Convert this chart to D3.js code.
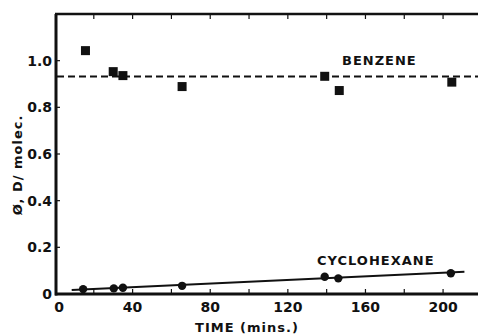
<!DOCTYPE html>
<html>
<head>
<meta charset="utf-8">
<script src="https://cdn.jsdelivr.net/npm/d3@7"></script>
<style>
  body { margin: 0; background: #fff; }
  text { font-family: "DejaVu Sans", "Liberation Sans", sans-serif; font-weight: bold; fill: #111; }
</style>
</head>
<body>
<div id="chart"></div>
<script>
// values
const benzeneTime = [15.7, 30, 35, 65.5, 139, 146.5, 204.5];
const benzeneYield = [1.043, 0.953, 0.936, 0.889, 0.933, 0.872, 0.908];
const benzeneLevel = 0.932;

const cycloTime = [14.5, 30.3, 35, 65.5, 139, 146, 204];
const cycloYield = [0.021, 0.024, 0.027, 0.035, 0.074, 0.067, 0.089];
const cycloFitTime = [8.6, 211];
const cycloFitYield = [0.017, 0.095];

const xTicks = [0, 40, 80, 120, 160, 200];
const xMinorTicks = [20, 60, 100, 140, 180];
const yTicks = [0, 0.2, 0.4, 0.6, 0.8, 1.0];
const yTickLabels = ["0", "0.2", "0.4", "0.6", "0.8", "1.0"];

const W = 478, H = 334;
const svg = d3.select("#chart").append("svg")
  .attr("width", W).attr("height", H);

const x = d3.scaleLinear().domain([0, 218]).range([55, 478]);
const y = d3.scaleLinear().domain([0, 1.2]).range([294, 14]);

const ink = "#111";

// frame: left, bottom, top (no right edge)
svg.append("line").attr("x1", x(0) + 1).attr("x2", x(0) + 1).attr("y1", y(1.2)).attr("y2", y(0) + 1.5)
  .attr("stroke", ink).attr("stroke-width", 3);
svg.append("line").attr("x1", x(0)).attr("x2", W).attr("y1", y(0)).attr("y2", y(0))
  .attr("stroke", ink).attr("stroke-width", 3);
svg.append("line").attr("x1", x(0)).attr("x2", W).attr("y1", y(1.2)).attr("y2", y(1.2))
  .attr("stroke", ink).attr("stroke-width", 2.5);

// inward ticks on bottom and top
const allX = xTicks.concat(xMinorTicks).filter(d => d > 0);
svg.append("g").selectAll("line").data(allX).join("line")
  .attr("x1", d => x(d)).attr("x2", d => x(d))
  .attr("y1", y(0)).attr("y2", y(0) - 5)
  .attr("stroke", ink).attr("stroke-width", 1.2);
svg.append("g").selectAll("line").data(allX).join("line")
  .attr("x1", d => x(d)).attr("x2", d => x(d))
  .attr("y1", y(1.2)).attr("y2", y(1.2) + 5)
  .attr("stroke", ink).attr("stroke-width", 1.2);

// left ticks
svg.append("g").selectAll("line").data(yTicks.slice(1)).join("line")
  .attr("x1", x(0)).attr("x2", x(0) + 5)
  .attr("y1", d => y(d)).attr("y2", d => y(d))
  .attr("stroke", ink).attr("stroke-width", 1.2);

// tick labels
svg.append("g").selectAll("text").data(xTicks).join("text")
  .attr("x", (d, i) => i === 0 ? x(d) + 4 : x(d))
  .attr("y", y(0) + 18)
  .attr("text-anchor", "middle")
  .style("font-size", "14px")
  .text(d => d);
svg.append("g").selectAll("text").data(yTicks).join("text")
  .attr("x", x(0) - 3)
  .attr("y", d => y(d) + 5)
  .attr("text-anchor", "end")
  .style("font-size", "14px")
  .text((d, i) => yTickLabels[i]);

// axis titles
svg.append("text")
  .attr("x", 247).attr("y", 332)
  .attr("text-anchor", "middle")
  .style("font-size", "13px")
  .style("letter-spacing", "1px")
  .text("TIME (mins.)");
svg.append("text")
  .attr("transform", "translate(22,165) rotate(-90)")
  .attr("text-anchor", "middle")
  .style("font-size", "13px")
  .style("letter-spacing", "1px")
  .text("Ø, D/ molec.");

// benzene: dashed mean line + squares
svg.append("line")
  .attr("x1", x(0) + 2).attr("x2", W)
  .attr("y1", y(benzeneLevel)).attr("y2", y(benzeneLevel))
  .attr("stroke", ink).attr("stroke-width", 2)
  .attr("stroke-dasharray", "7,4");
svg.append("g").selectAll("rect").data(benzeneTime).join("rect")
  .attr("x", (d) => x(d) - 4.5)
  .attr("y", (d, i) => y(benzeneYield[i]) - 4.5)
  .attr("width", 9).attr("height", 9)
  .attr("fill", ink);
svg.append("text")
  .attr("x", 342).attr("y", 65)
  .style("font-size", "13px")
  .style("letter-spacing", "1px")
  .text("BENZENE");

// cyclohexane: fit line + circles
const line = d3.line().x(d => x(d[0])).y(d => y(d[1]));
svg.append("path")
  .attr("d", line(cycloFitTime.map((t, i) => [t, cycloFitYield[i]])))
  .attr("stroke", ink).attr("stroke-width", 2).attr("fill", "none");
svg.append("g").selectAll("circle").data(cycloTime).join("circle")
  .attr("cx", d => x(d))
  .attr("cy", (d, i) => y(cycloYield[i]))
  .attr("r", 4.2)
  .attr("fill", ink);
svg.append("text")
  .attr("x", 317).attr("y", 265)
  .style("font-size", "13px")
  .style("letter-spacing", "1px")
  .text("CYCLOHEXANE");
</script>
</body>
</html>
